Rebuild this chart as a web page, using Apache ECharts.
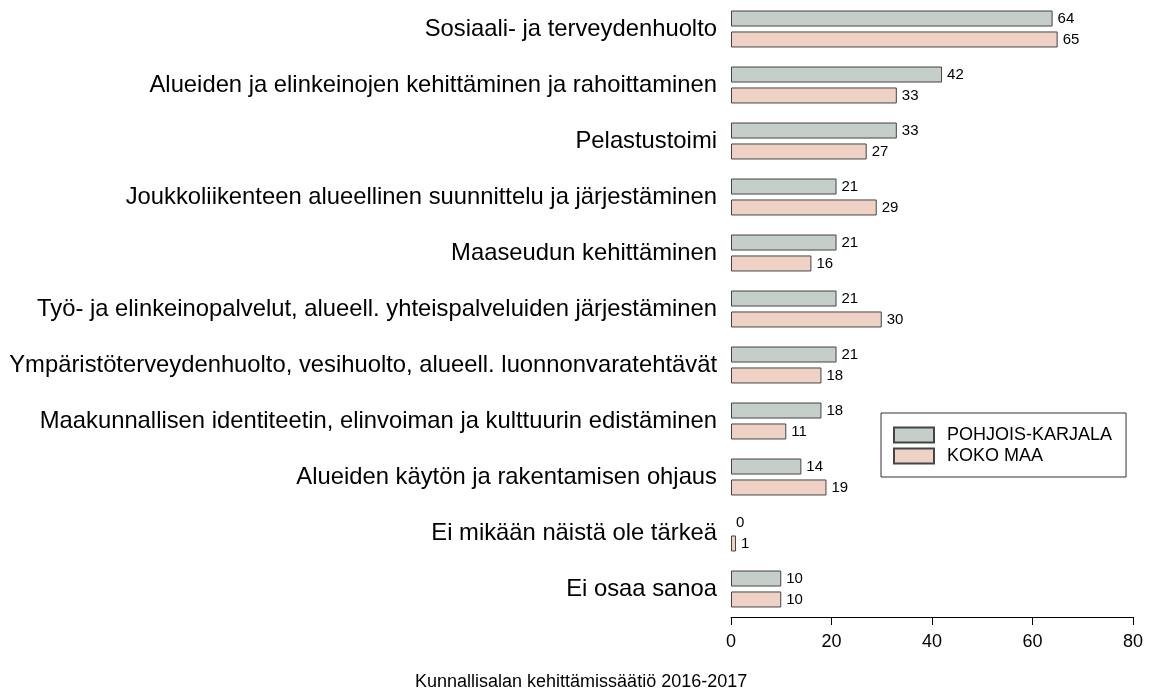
<!DOCTYPE html>
<html>
<head>
<meta charset="utf-8">
<script src="https://cdn.jsdelivr.net/npm/echarts@6/dist/echarts.min.js"></script>
<style>
  html, body { margin: 0; padding: 0; background: #fff; }
  #main { width: 1151px; height: 690px; }
</style>
</head>
<body>
<div id="main"></div>
<script type="text/javascript">
    var categories = [
        'Sosiaali- ja terveydenhuolto',
        'Alueiden ja elinkeinojen kehittäminen ja rahoittaminen',
        'Pelastustoimi',
        'Joukkoliikenteen alueellinen suunnittelu ja järjestäminen',
        'Maaseudun kehittäminen',
        'Työ- ja elinkeinopalvelut, alueell. yhteispalveluiden järjestäminen',
        'Ympäristöterveydenhuolto, vesihuolto, alueell. luonnonvaratehtävät',
        'Maakunnallisen identiteetin, elinvoiman ja kulttuurin edistäminen',
        'Alueiden käytön ja rakentamisen ohjaus',
        'Ei mikään näistä ole tärkeä',
        'Ei osaa sanoa'
    ];
    var pohjoisKarjala = [64, 42, 33, 21, 21, 21, 21, 18, 14, 0, 10];
    var kokoMaa        = [65, 33, 27, 29, 16, 30, 18, 11, 19, 1, 10];
    var xTicks = [0, 20, 40, 60, 80];
    var seriesNames = ['POHJOIS-KARJALA', 'KOKO MAA'];
    var colors = ['#C5CEC8', '#F0D1C6'];

    var myChart = echarts.init(document.getElementById('main'));
    var font = 'Liberation Sans, Arial, sans-serif';

    function makeSerie(name, data, color) {
        // zero bars get no outline (nothing is drawn in the original)
        var items = data.map(function (v) {
            return v === 0 ? { value: v, itemStyle: { borderWidth: 0 } } : v;
        });
        return {
            name: name,
            type: 'bar',
            data: items,
            barWidth: 16,
            barGap: '31%',
            itemStyle: { color: color, borderColor: '#444', borderWidth: 1 },
            label: {
                show: true, position: 'right', distance: 5,
                color: '#000', fontSize: 15, fontFamily: font
            }
        };
    }

    var option = {
        backgroundColor: '#fff',
        animation: false,
        textStyle: { fontFamily: font },
        title: {
            text: 'Kunnallisalan kehittämissäätiö 2016-2017',
            left: 415, top: 673, padding: 0,
            textStyle: { color: '#000', fontSize: 18, fontWeight: 'normal', fontFamily: font }
        },
        legend: {
            orient: 'vertical',
            left: 881, top: 413,
            width: 248,
            padding: [13, 14, 12, 12],
            itemWidth: 40, itemHeight: 15, itemGap: 3,
            icon: 'rect',
            borderColor: '#333', borderWidth: 1, borderRadius: 0,
            backgroundColor: '#fff',
            data: seriesNames,
            textStyle: { color: '#000', fontSize: 18, lineHeight: 15, fontFamily: font, padding: [0, 0, 0, 8] }
        },
        grid: { left: 731, right: 18, top: 1, bottom: 73, containLabel: false },
        xAxis: {
            type: 'value',
            min: xTicks[0], max: xTicks[xTicks.length - 1], interval: 20,
            axisLine: { show: true, lineStyle: { color: '#000', width: 1 } },
            axisTick: { show: true, length: 8, lineStyle: { color: '#000' } },
            axisLabel: { color: '#000', fontSize: 18, margin: 16, fontFamily: font },
            splitLine: { show: false }
        },
        yAxis: {
            type: 'category',
            inverse: true,
            data: categories,
            axisLine: { show: false },
            axisTick: { show: false },
            axisLabel: { color: '#000', fontSize: 23.8, margin: 14, fontFamily: font }
        },
        series: [
            makeSerie(seriesNames[0], pohjoisKarjala, colors[0]),
            makeSerie(seriesNames[1], kokoMaa, colors[1])
        ]
    };
    myChart.setOption(option);
</script>
</body>
</html>
